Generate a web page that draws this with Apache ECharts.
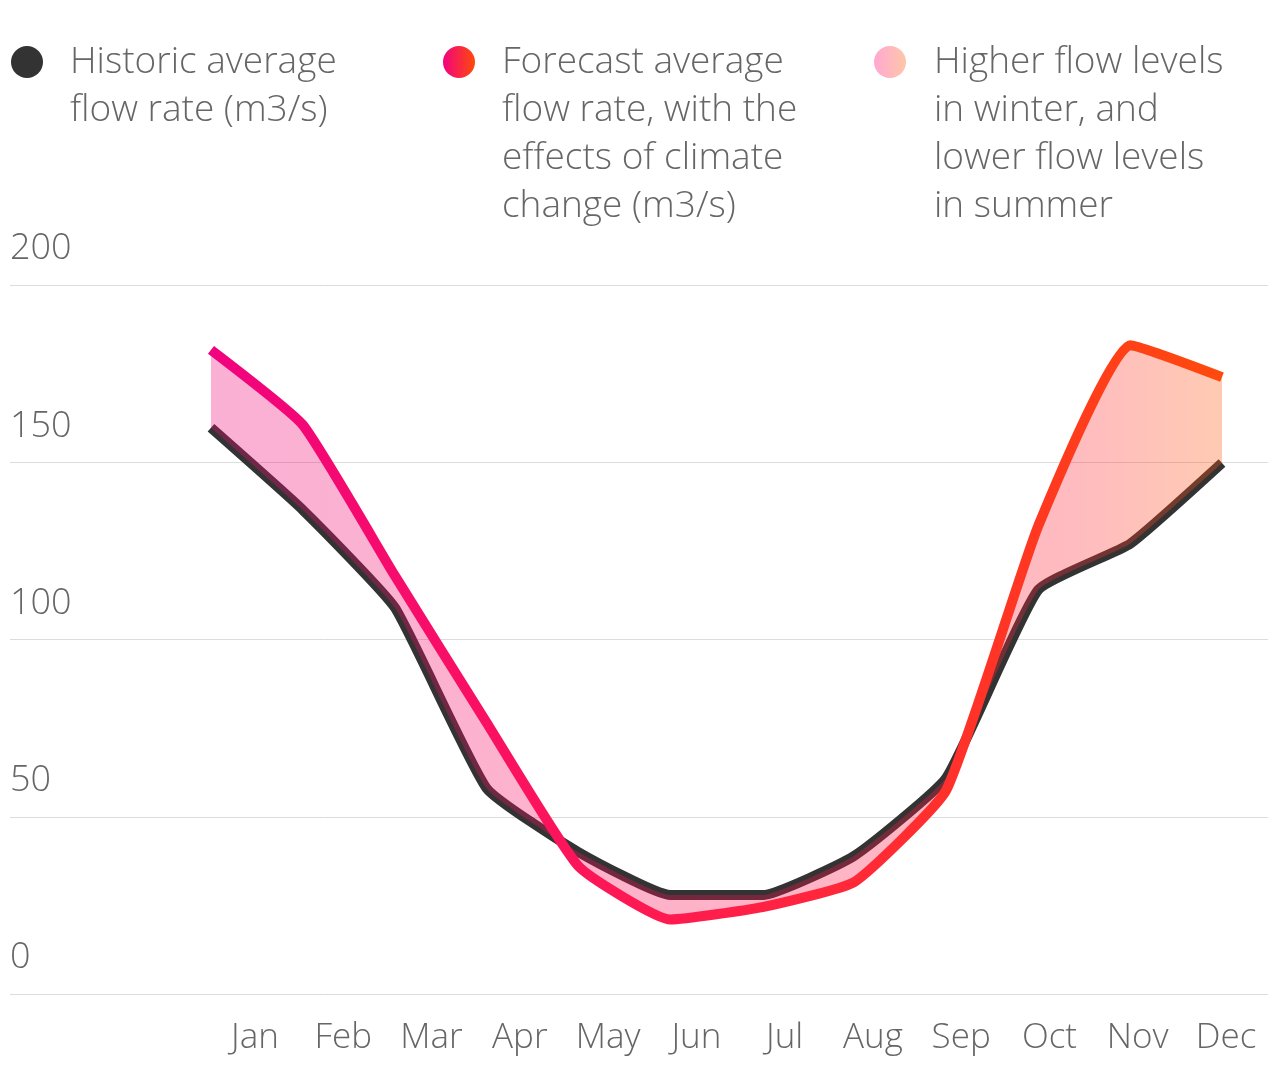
<!DOCTYPE html>
<html>
<head>
<meta charset="utf-8">
<script src="https://cdn.jsdelivr.net/npm/echarts@6/dist/echarts.min.js"></script>
<style>html,body{margin:0;padding:0;background:#fff}#c{width:1280px;height:1078px}</style>
</head>
<body>
<div id="c"></div>
<script>
const months = ['Jan','Feb','Mar','Apr','May','Jun','Jul','Aug','Sep','Oct','Nov','Dec'];
const historicFlow = [159.7, 136.5, 109, 58, 40, 27.9, 27.9, 39, 61, 114, 127, 149.8];
const forecastFlow = [181.7, 160.5, 118, 76.5, 36, 21, 24.5, 31.6, 57.5, 132, 183, 174];
const yTicks = [0, 50, 100, 150, 200];
const legendLabels = [
  'Historic average\nflow rate (m3/s)',
  'Forecast average\nflow rate, with the\neffects of climate\nchange (m3/s)',
  'Higher flow levels\nin winter, and\nlower flow levels\nin summer'
];

const diffFlow = forecastFlow.map((v, i) => +(v - historicFlow[i]).toFixed(3));
const FONT = '"Open Sans", Lato, sans-serif';
const LG = echarts.graphic.LinearGradient;
const SM = 0.14;

const chart = echarts.init(document.getElementById('c'), null, {renderer: 'canvas'});
const TOP = 285, BOTTOM = 84;
const legendFont = '300 37px ' + FONT;

chart.setOption({
  animation: false,
  backgroundColor: '#fff',
  grid: [
    {left: 10, right: 12, top: TOP, bottom: BOTTOM},
    {left: 211, right: 58, top: TOP, bottom: BOTTOM},
    {left: 255, right: 54, top: TOP, bottom: BOTTOM}
  ],
  xAxis: [
    {gridIndex: 0, type: 'category', data: months, show: false},
    {gridIndex: 1, type: 'category', data: months, boundaryGap: false, show: false},
    {gridIndex: 2, type: 'category', data: months, boundaryGap: false,
      axisLine: {show: false}, axisTick: {show: false}, splitLine: {show: false},
      axisLabel: {color: '#666', fontSize: 35, fontWeight: 300, fontFamily: FONT, margin: 27, interval: 0}}
  ],
  yAxis: [
    {gridIndex: 0, type: 'value', min: yTicks[0], max: yTicks[yTicks.length-1], interval: 50,
      axisLine: {show: false}, axisTick: {show: false},
      splitLine: {lineStyle: {color: '#dcdcdc', width: 1}},
      axisLabel: {inside: true, margin: 0, align: 'left', verticalAlign: 'bottom',
        color: '#666', fontSize: 36, fontWeight: 300, fontFamily: FONT, lineHeight: 36, padding: [0,0,18,0]}},
    {gridIndex: 1, type: 'value', min: 0, max: 200, show: false},
    {gridIndex: 2, type: 'value', min: 0, max: 200, show: false}
  ],
  series: [
    {type: 'line', xAxisIndex: 1, yAxisIndex: 1, data: historicFlow, smooth: SM,
      symbol: 'none', z: 2,
      lineStyle: {color: '#333', width: 10, join: 'round', cap: 'butt'}},
    {type: 'line', xAxisIndex: 1, yAxisIndex: 1, data: historicFlow, smooth: SM,
      stack: 'band', stackStrategy: 'all', symbol: 'none', z: 3,
      lineStyle: {opacity: 0, width: 0}},
    {type: 'line', xAxisIndex: 1, yAxisIndex: 1, data: diffFlow, smooth: SM,
      stack: 'band', stackStrategy: 'all', symbol: 'none', z: 3,
      lineStyle: {opacity: 0, width: 0},
      areaStyle: {opacity: 0.32, color: new LG(0, 0, 1, 0, [
        {offset: 0, color: '#ee0a7a'}, {offset: 0.55, color: '#ff104e'},
        {offset: 0.85, color: '#ff2a3a'}, {offset: 1, color: '#ff5a10'}])}},
    {type: 'line', xAxisIndex: 1, yAxisIndex: 1, data: forecastFlow, smooth: SM,
      symbol: 'none', z: 4,
      lineStyle: {width: 10, join: 'round', cap: 'butt', color: new LG(0, 0, 1, 0, [
        {offset: 0, color: '#f0027f'}, {offset: 0.45, color: '#ff1a50'},
        {offset: 0.75, color: '#ff3228'}, {offset: 1, color: '#ff4a0c'}])}}
  ],
  graphic: [
    {type: 'circle', shape: {cx: 27, cy: 62, r: 16}, style: {fill: '#333'}},
    {type: 'text', x: 70, y: 38, style: {text: legendLabels[0], font: legendFont, fill: '#666', lineHeight: 48, verticalAlign: 'top'}},
    {type: 'circle', shape: {cx: 459, cy: 62, r: 16}, style: {fill: new LG(0, 0, 1, 0, [
      {offset: 0, color: '#f2037f'}, {offset: 1, color: '#ff4a0a'}])}},
    {type: 'text', x: 502, y: 38, style: {text: legendLabels[1], font: legendFont, fill: '#666', lineHeight: 48, verticalAlign: 'top'}},
    {type: 'circle', shape: {cx: 890, cy: 62, r: 16}, style: {fill: new LG(0, 0, 1, 0, [
      {offset: 0, color: '#ffa8d2'}, {offset: 1, color: '#ffc6a8'}])}},
    {type: 'text', x: 934, y: 38, style: {text: legendLabels[2], font: legendFont, fill: '#666', lineHeight: 48, verticalAlign: 'top'}}
  ]
});
</script>
</body>
</html>
